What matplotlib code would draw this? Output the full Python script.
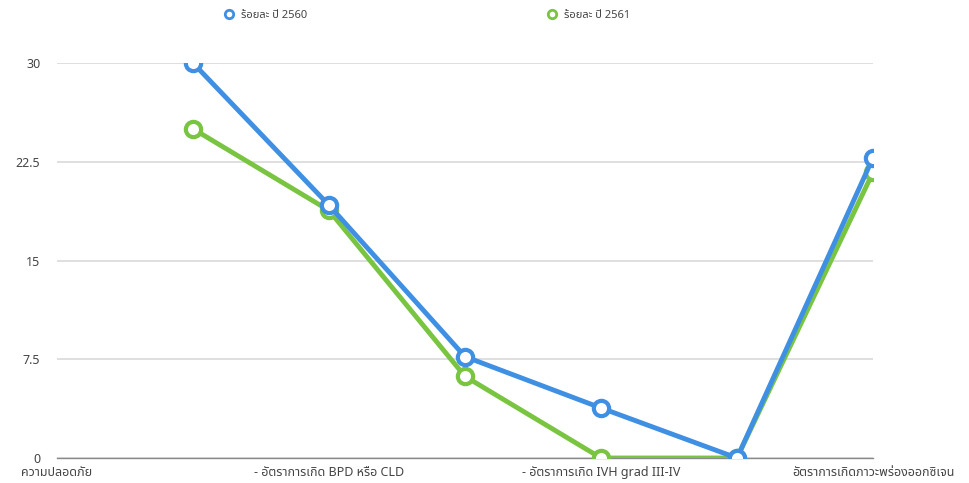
import matplotlib.pyplot as plt
import numpy as np

# categories (only every other label is printed on the axis)
categories = ['ความปลอดภัย', '', '- อัตราการเกิด BPD หรือ CLD', '',
              '- อัตราการเกิด IVH grad III-IV', '', 'อัตราการเกิดภาวะพร่องออกซิเจน']
pct_2560 = [np.nan, 30.0, 19.2, 7.7, 3.8, 0.0, 22.8]
pct_2561 = [np.nan, 25.0, 18.8, 6.2, 0.0, 0.0, 21.7]
yticks = [0, 7.5, 15, 22.5, 30]

plt.rcParams['font.family'] = ['Noto Sans Thai', 'Noto Sans', 'DejaVu Sans']

blue = '#3f8fe3'
green = '#79c441'

fig = plt.figure(figsize=(9.7, 4.83), dpi=100)
ax = fig.add_axes([57/970, 25/483, (873-57)/970, (458-63)/483])

x = np.arange(len(categories))
ax.plot(x, pct_2560, color=blue, lw=3.5, marker='o', ms=11, mfc='white',
        mec=blue, mew=3, label='ร้อยละ ปี 2560', zorder=4)
ax.plot(x, pct_2561, color=green, lw=3.5, marker='o', ms=11, mfc='white',
        mec=green, mew=3, label='ร้อยละ ปี 2561', zorder=3)

ax.set_xlim(0, len(categories) - 1)
ax.set_ylim(0, 30)
ax.set_yticks(yticks)
ax.set_yticklabels(['0', '7.5', '15', '22.5', '30'])
ax.set_xticks(x)
ax.set_xticklabels(categories)
ax.tick_params(axis='both', length=0, labelsize=9, labelcolor='#444444')
ax.tick_params(axis='y', pad=12)
ax.tick_params(axis='x', pad=6)
ax.grid(axis='y', color='#dcdcdc', lw=1.3)
ax.set_axisbelow(True)
for s in ['top', 'right', 'left']:
    ax.spines[s].set_visible(False)
ax.spines['bottom'].set_color('#8a8a8a')
ax.spines['bottom'].set_linewidth(1)
for sp in ax.spines.values():
    sp.set_clip_on(False)

leg = fig.legend(loc='upper center', bbox_to_anchor=(0.44, 1.0), ncol=2,
                 frameon=False, fontsize=8, columnspacing=21.5,
                 handlelength=1.0, handletextpad=0.6, markerscale=0.55,
                 labelcolor='#444444')
for h in leg.legend_handles:
    h.set_linestyle('none')
    h.set_markeredgewidth(2)

fig.savefig('out.png', dpi=100)
